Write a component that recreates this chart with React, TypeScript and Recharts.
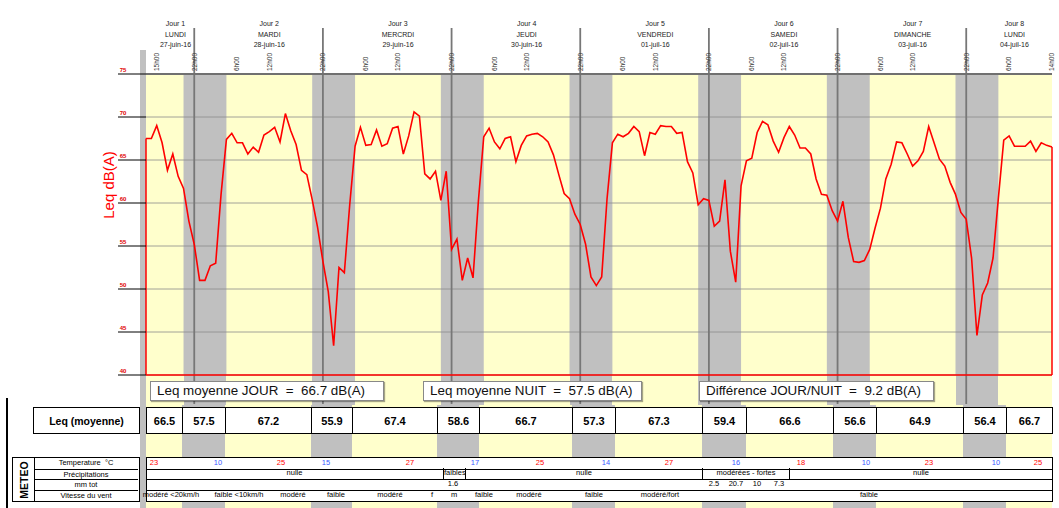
import React from 'react';
import { ComposedChart, Line, XAxis, YAxis, ReferenceArea, ReferenceLine } from 'recharts';

const START_HOUR = 13;
const END_HOUR = 182;

// Leq horaire dB(A) from 27-juin 13h00 to 04-juil 14h00
const leqHoraire = [
  67.5, 67.5, 69.0, 67.0, 63.8, 65.7, 63.1, 61.7, 57.9, 55.2,
  51.0, 51.0, 52.7, 53.0, 61.0, 67.4, 68.1, 67.0, 67.0, 65.7,
  66.5, 65.9, 67.9, 68.3, 68.8, 67.1, 70.4, 68.4, 66.8, 63.8,
  63.3, 60.4, 57.2, 53.2, 49.7, 43.4, 52.5, 51.9, 59.8, 66.6,
  68.8, 66.7, 66.8, 68.5, 66.6, 66.9, 68.7, 68.9, 65.7, 67.8,
  70.6, 70.1, 63.4, 62.8, 63.7, 60.3, 63.7, 54.6, 55.8, 51.0,
  53.6, 51.3, 60.2, 67.7, 68.7, 67.1, 66.3, 67.5, 67.7, 64.8,
  66.7, 67.8, 68.0, 68.1, 67.7, 67.1, 65.6, 63.3, 61.1, 60.5,
  58.7, 57.5, 55.2, 51.4, 50.4, 51.4, 60.5, 67.0, 68.0, 67.7,
  68.1, 68.9, 68.3, 65.5, 68.2, 68.0, 69.0, 68.9, 68.9, 68.1,
  68.2, 64.8, 63.5, 59.8, 60.5, 60.3, 57.3, 57.9, 62.7, 54.4,
  50.8, 62.0, 64.9, 65.2, 68.2, 69.5, 69.1, 67.2, 65.9, 67.6,
  68.9, 67.9, 66.4, 66.4, 65.7, 62.8, 61.0, 60.9, 59.1, 57.9,
  60.2, 56.0, 53.2, 53.1, 53.3, 54.6, 57.1, 59.4, 62.8, 64.5,
  67.1, 67.0, 65.7, 64.3, 64.9, 66.0, 68.9, 67.0, 65.1, 64.3,
  62.4, 61.0, 58.9, 58.1, 53.6, 44.6, 49.3, 50.7, 53.6, 60.6,
  67.3, 67.8, 66.6, 66.6, 66.6, 67.2, 66.0, 67.0, 66.7, 66.5,
];

const dayNames = ['Jour 1', 'Jour 2', 'Jour 3', 'Jour 4', 'Jour 5', 'Jour 6', 'Jour 7', 'Jour 8'];
const weekDays = ['LUNDI', 'MARDI', 'MERCRDI', 'JEUDI', 'VENDREDI', 'SAMEDI', 'DIMANCHE', 'LUNDI'];
const dates = ['27-juin-16', '28-juin-16', '29-juin-16', '30-juin-16', '01-juil-16', '02-juil-16', '03-juil-16', '04-juil-16'];

const nightStart = [20, 44, 68, 92, 116, 140, 164];
const nightEnd = [28, 52, 76, 100, 124, 148, 172];
const dayBreaks = [22, 46, 70, 94, 118, 142, 166];
const hourTicks = [15, 22, 30, 36, 46, 54, 60, 70, 78, 84, 94, 102, 108, 118, 126, 132, 142, 150, 156, 166, 174, 182];
const dbTicks = [40, 45, 50, 55, 60, 65, 70, 75];

const summaryTexts = ['Leq moyenne JOUR  =  66.7 dB(A)', 'Leq moyenne NUIT  =  57.5 dB(A)', 'Différence JOUR/NUIT  =  9.2 dB(A)'];
const leqMoyenne = ['66.5', '57.5', '67.2', '55.9', '67.4', '58.6', '66.7', '57.3', '67.3', '59.4', '66.6', '56.6', '64.9', '56.4', '66.7'];
const temperatures = [23, 10, 25, 15, 27, 17, 25, 14, 27, 16, 18, 10, 23, 10, 25];
const precipitations = ['nulle', 'faibles', 'nulle', 'modérées - fortes', 'nulle'];
const precipMm = ['1.6', '2.5', '20.7', '10', '7.3'];
const vent = ['modéré <20km/h', 'faible <10km/h', 'modéré', 'faible', 'modéré', 'f', 'm', 'faible', 'modéré', 'faible', 'modéré/fort', 'faible'];
const meteoLabels = ['Temperature  °C', 'Précipitations', 'mm tot', 'Vitesse du vent'];

// layout of the lower table (pixels)
const PLOT_LEFT = 146;
const PLOT_RIGHT = 1052;
const colWidths = [36, 43, 86, 41, 85, 42, 93, 43, 87, 44, 87, 43, 87, 43, 46];
const summaryBoxes = [[150, 384], [423, 642], [699, 934]];
const tempX = [154, 218, 281, 326, 410, 475, 540, 606, 669, 736, 801, 866, 929, 996, 1038];
const precipEdges = [146, 443, 465, 702, 789, 1052];
const mmX = [453, 714, 736, 757, 779];
const ventX = [171, 239, 293, 336, 390, 432, 454, 484, 529, 594, 660, 869];

const FONT = 'Arial, "Liberation Sans", sans-serif';
const YELLOW = '#FFFFCC';
const GREY = '#C0C0C0';

const data = leqHoraire.map((v, i) => ({ h: START_HOUR + i, leq: v }));

const hourToPx = (h: number) => PLOT_LEFT + ((h - START_HOUR) * (PLOT_RIGHT - PLOT_LEFT)) / (END_HOUR - START_HOUR);

function HourTick({ x, payload }: any) {
  const tx = x + 2.3;
  return (
    <text x={tx} y={71} transform={`rotate(-90 ${tx} 71)`} fontSize={6.5} fill="#333" fontFamily={FONT}>
      {`${payload.value % 24}h00`}
    </text>
  );
}

function DbTick({ y, payload }: any) {
  return (
    <g>
      <line x1={118} x2={146} y1={y} y2={y} stroke="#000" strokeWidth={1} />
      <text x={123} y={y - 2} fontSize={6} fontWeight="bold" fill="#e00000" textAnchor="middle" fontFamily={FONT}>
        {payload.value}
      </text>
    </g>
  );
}

function DayBreak(props: any) {
  const top = Math.min(props.y1, props.y2);
  const bottom = Math.max(props.y1, props.y2);
  return <line x1={props.x1} x2={props.x2} y1={top - 46} y2={bottom + 29} stroke="#777" strokeWidth={1.8} />;
}

const dayHeader = (i: number) => (p: any) => {
  const x = p.viewBox.x;
  return (
    <g fontSize={7} fill="#222" textAnchor="middle" fontFamily={FONT}>
      <text x={x} y={25.5}>{dayNames[i]}</text>
      <text x={x} y={36.5}>{weekDays[i]}</text>
      <text x={x} y={47}>{dates[i]}</text>
    </g>
  );
};

function dayCenter(i: number) {
  const a = Math.max(i * 24, START_HOUR);
  const b = Math.min((i + 1) * 24, END_HOUR);
  return (a + b) / 2;
}

export default function App() {
  let acc = PLOT_LEFT;
  const cols = colWidths.map((w) => {
    const c = { left: acc, width: w };
    acc += w;
    return c;
  });

  return (
    <div style={{ position: 'absolute', left: 0, top: 0, width: 1059, height: 508, background: '#fff', overflow: 'hidden', fontFamily: FONT }}>
      {/* left grey strip */}
      <div style={{ position: 'absolute', left: 140, top: 50, width: 6, height: 458, background: GREY }} />

      {/* band continuation below the plot */}
      <div style={{ position: 'absolute', left: PLOT_LEFT, top: 375, width: PLOT_RIGHT - PLOT_LEFT, height: 30, background: YELLOW }} />
      {nightStart.map((s, i) => (
        <div key={`nb${i}`} style={{ position: 'absolute', left: hourToPx(s), top: 375, width: hourToPx(nightEnd[i]) - hourToPx(s), height: 30, background: GREY }} />
      ))}
      {cols.map((c, i) => (
        <div key={`tb${i}`} style={{ position: 'absolute', left: c.left, top: 405, width: c.width, height: 103, background: i % 2 ? GREY : YELLOW }} />
      ))}

      <ComposedChart
        width={1059}
        height={410}
        data={data}
        margin={{ top: 50, right: 7, bottom: 35, left: 116 }}
        style={{ position: 'absolute', left: 0, top: 0, overflow: 'visible' }}
      >
        <XAxis
          dataKey="h"
          type="number"
          domain={[START_HOUR, END_HOUR]}
          orientation="top"
          ticks={hourTicks}
          interval={0}
          height={24}
          axisLine={{ stroke: '#707070', strokeWidth: 2 }}
          tickLine={false}
          tick={<HourTick />}
        />
        <YAxis
          type="number"
          domain={[40, 75]}
          ticks={dbTicks}
          interval={0}
          width={30}
          axisLine={false}
          tickLine={false}
          tick={<DbTick />}
        />
        <ReferenceArea x1={START_HOUR} x2={END_HOUR} fill={YELLOW} fillOpacity={1} stroke="none" />
        {nightStart.map((s, i) => (
          <ReferenceArea key={`n${i}`} x1={s} x2={nightEnd[i]} fill={GREY} fillOpacity={1} stroke="none" />
        ))}
        {dbTicks.map((v) => (
          <ReferenceLine key={`g${v}`} y={v} stroke="#8a8a8a" strokeWidth={0.8} />
        ))}
        {dayBreaks.map((h) => (
          <ReferenceLine key={`d${h}`} x={h} stroke="#777" shape={DayBreak} />
        ))}
        {dayNames.map((_d, i) => (
          <ReferenceLine key={`h${i}`} x={dayCenter(i)} stroke="none" label={dayHeader(i)} />
        ))}
        <ReferenceLine y={40} stroke="#FF0000" strokeWidth={1.5} />
        <ReferenceLine segment={[{ x: START_HOUR, y: 40 }, { x: START_HOUR, y: leqHoraire[0] }]} stroke="#FF0000" strokeWidth={1.5} />
        <ReferenceLine
          segment={[{ x: END_HOUR, y: 40 }, { x: END_HOUR, y: leqHoraire[leqHoraire.length - 1] }]}
          stroke="#FF0000"
          strokeWidth={1.5}
        />
        <Line type="linear" dataKey="leq" stroke="#FF0000" strokeWidth={1.6} dot={false} isAnimationActive={false} />
      </ComposedChart>

      {/* axis title */}
      <div
        style={{
          position: 'absolute', left: 108, top: 185, transform: 'translate(-50%, -50%) rotate(-90deg)',
          color: '#FF0000', fontSize: 15, whiteSpace: 'nowrap',
        }}
      >
        Leq dB(A)
      </div>

      {/* summary boxes */}
      {summaryTexts.map((t, i) => (
        <div
          key={`s${i}`}
          style={{
            position: 'absolute', left: summaryBoxes[i][0], top: 381, width: summaryBoxes[i][1] - summaryBoxes[i][0], height: 20,
            boxSizing: 'border-box', background: '#fff', border: '1px solid #888', boxShadow: '1px 1px 1px rgba(0,0,0,0.35)',
            fontSize: 13.4, lineHeight: '18px', paddingLeft: 6, whiteSpace: 'pre', color: '#111',
          }}
        >
          {t}
        </div>
      ))}

      {/* left frame */}
      <div style={{ position: 'absolute', left: 6, top: 398, width: 1.5, height: 110, background: '#000' }} />

      {/* Leq (moyenne) row */}
      <div
        style={{
          position: 'absolute', left: 33, top: 407, width: 107, height: 27, boxSizing: 'border-box', border: '1.3px solid #000',
          background: '#fff', fontSize: 10.5, fontWeight: 'bold', display: 'flex', alignItems: 'center', justifyContent: 'center',
        }}
      >
        Leq (moyenne)
      </div>
      {cols.map((c, i) => (
        <div
          key={`c${i}`}
          style={{
            position: 'absolute', left: c.left, top: 407, width: c.width + 1, height: 27, boxSizing: 'border-box',
            border: '1.3px solid #000', background: '#fff', fontSize: 11, fontWeight: 'bold',
            display: 'flex', alignItems: 'center', justifyContent: 'center',
          }}
        >
          {leqMoyenne[i]}
        </div>
      ))}

      {/* METEO label block */}
      <div style={{ position: 'absolute', left: 12, top: 457, width: 128, height: 45, boxSizing: 'border-box', border: '1.3px solid #000', background: '#fff' }}>
        <div style={{ position: 'absolute', left: 0, top: 0, width: 21, height: '100%', borderRight: '1px solid #000' }}>
          <div style={{ position: 'absolute', left: '50%', top: '50%', transform: 'translate(-50%, -50%) rotate(-90deg)', fontSize: 10.5, fontWeight: 'bold' }}>
            METEO
          </div>
        </div>
        {meteoLabels.map((l, i) => (
          <div
            key={`ml${i}`}
            style={{
              position: 'absolute', left: 21, top: i * 10.7, width: 104, height: 10.7, boxSizing: 'border-box',
              borderTop: i ? '1px solid #000' : 'none', fontSize: 7.5, lineHeight: '10px', textAlign: 'center', whiteSpace: 'pre',
            }}
          >
            {l}
          </div>
        ))}
      </div>

      {/* METEO data block */}
      <div style={{ position: 'absolute', left: PLOT_LEFT, top: 457, width: PLOT_RIGHT - PLOT_LEFT + 1, height: 45, boxSizing: 'border-box', border: '1.3px solid #000', background: '#fff' }}>
        {[1, 2, 3].map((r) => (
          <div key={`r${r}`} style={{ position: 'absolute', left: 0, right: 0, top: r * 10.7, height: 1, background: '#000' }} />
        ))}
      </div>
      {temperatures.map((t, i) => (
        <div
          key={`t${i}`}
          style={{ position: 'absolute', left: tempX[i], top: 458, transform: 'translateX(-50%)', fontSize: 7.5, lineHeight: '10px', color: i % 2 ? '#3b5bff' : '#ff0000' }}
        >
          {t}
        </div>
      ))}
      {precipitations.map((p, i) => (
        <div
          key={`p${i}`}
          style={{
            position: 'absolute', left: precipEdges[i], top: 468, width: precipEdges[i + 1] - precipEdges[i], height: 11,
            boxSizing: 'border-box', borderLeft: i ? '1px solid #000' : 'none', fontSize: 7.5, lineHeight: '10px', textAlign: 'center',
          }}
        >
          {p}
        </div>
      ))}
      {precipMm.map((m, i) => (
        <div key={`m${i}`} style={{ position: 'absolute', left: mmX[i], top: 479, transform: 'translateX(-50%)', fontSize: 7.5, lineHeight: '10px' }}>
          {m}
        </div>
      ))}
      {vent.map((v, i) => (
        <div
          key={`v${i}`}
          style={{ position: 'absolute', left: ventX[i], top: 490, transform: 'translateX(-50%)', fontSize: 7.5, lineHeight: '10px', whiteSpace: 'nowrap' }}
        >
          {v}
        </div>
      ))}
    </div>
  );
}
